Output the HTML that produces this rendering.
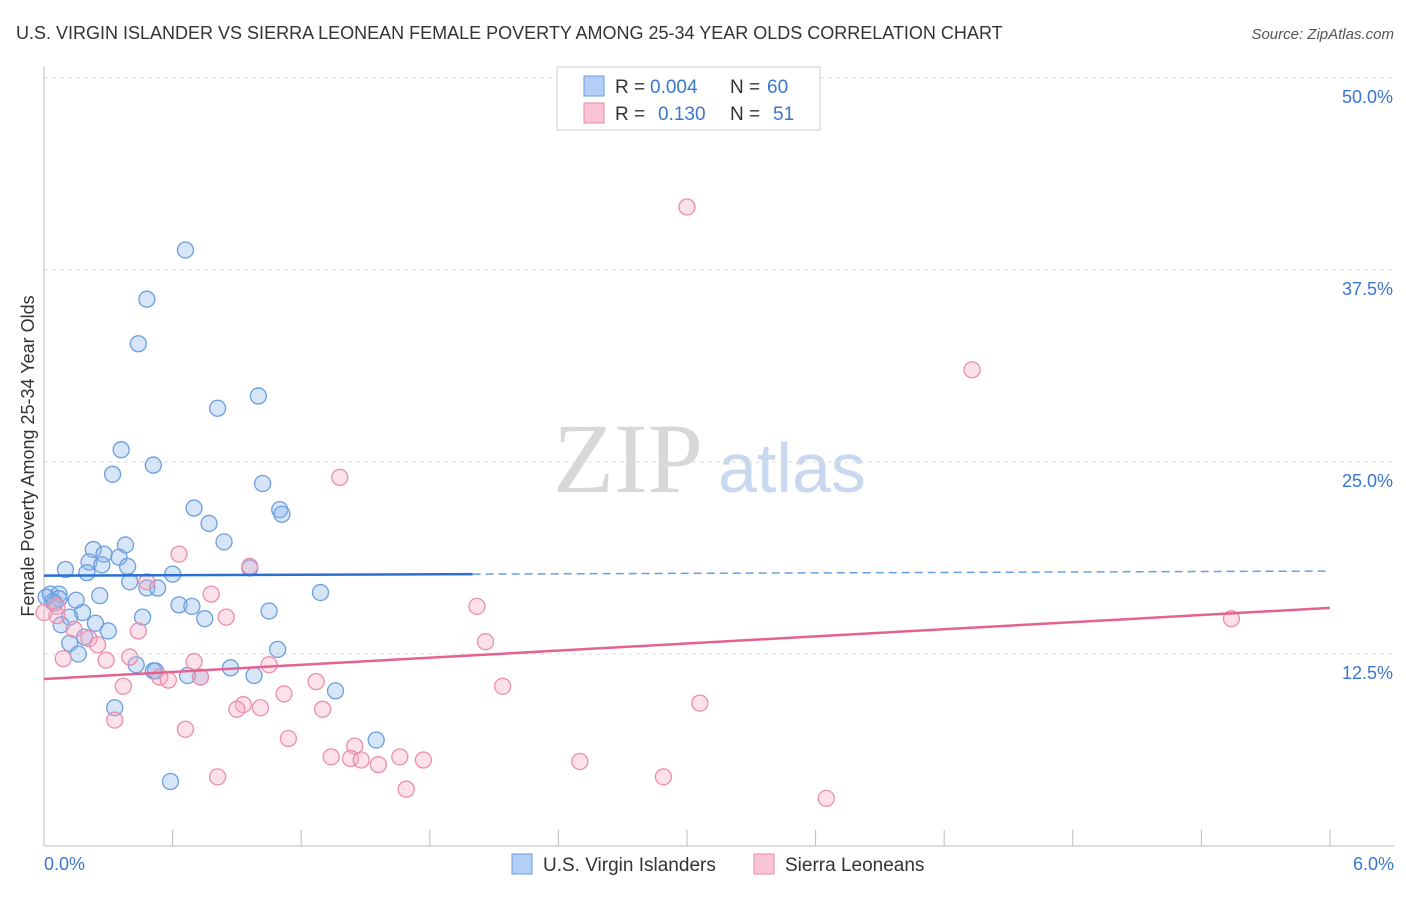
<!DOCTYPE html>
<html><head><meta charset="utf-8"><style>
body{margin:0;background:#fff;font-family:"Liberation Sans",sans-serif}
svg text{font-family:"Liberation Sans",sans-serif}
</style></head><body>
<svg id="c" width="1406" height="892">
<text x="16" y="39" font-size="18" fill="#333">U.S. VIRGIN ISLANDER VS SIERRA LEONEAN FEMALE POVERTY AMONG 25-34 YEAR OLDS CORRELATION CHART</text>
<text x="1394" y="39" font-size="15" fill="#555" text-anchor="end" font-style="italic">Source: ZipAtlas.com</text>
<text x="553" y="492" font-size="100" fill="#d8d8d8" style="font-family:'Liberation Serif',serif">ZIP</text>
<text x="718" y="492" font-size="70" fill="#c8d8ee">atlas</text>
<text transform="translate(34,456) rotate(-90)" font-size="18" fill="#333" text-anchor="middle">Female Poverty Among 25-34 Year Olds</text>
<g id="grid"></g><g id="pts"></g><g id="lines"></g>
<g>
<rect x="557" y="67" width="263" height="63" fill="#fff" stroke="#ccc"/>
<rect x="584" y="76" width="20" height="20" fill="#b4cff5" stroke="#6a9ee0"/>
<text x="615" y="93" font-size="19" fill="#333">R =</text>
<text x="650" y="93" font-size="19" fill="#3a76d0">0.004</text>
<text x="730" y="93" font-size="19" fill="#333">N =</text>
<text x="767" y="93" font-size="19" fill="#3a76d0">60</text>
<rect x="584" y="103" width="20" height="20" fill="#f8c3d2" stroke="#e88aa8"/>
<text x="615" y="120" font-size="19" fill="#333">R =</text>
<text x="658" y="120" font-size="19" fill="#3a76d0">0.130</text>
<text x="730" y="120" font-size="19" fill="#333">N =</text>
<text x="773" y="120" font-size="19" fill="#3a76d0">51</text>
</g>
<g>
<rect x="512" y="854" width="20" height="20" fill="#b4cff5" stroke="#6a9ee0"/>
<text x="543" y="871" font-size="19" fill="#333">U.S. Virgin Islanders</text>
<rect x="754" y="854" width="20" height="20" fill="#f8c3d2" stroke="#e88aa8"/>
<text x="785" y="871" font-size="19" fill="#333">Sierra Leoneans</text>
</g>
</svg>
<script>
const xTicks=[0,0.6,1.2,1.8,2.4,3.0,3.6,4.2,4.8,5.4,6.0];
const yTicks=[12.5,25,37.5,50];
const yTickLabels=["12.5%","25.0%","37.5%","50.0%"];
const blueX=[0.66,0.48,0.44,0.81,1.0,0.36,0.32,0.51,1.02,0.70,1.10,1.11,0.77,0.84,0.38,0.23,0.28,0.35,0.21,0.27,0.39,0.10,0.20,0.60,0.96,0.40,0.48,0.53,1.29,0.03,0.07,0.01,0.07,0.26,0.15,0.04,0.05,0.63,0.69,1.05,0.18,0.46,0.12,0.75,0.08,0.24,0.30,0.19,0.12,1.09,0.16,0.43,0.51,0.52,0.87,0.67,0.73,0.98,1.36,0.33,1.55,0.59];
const blueY=[38.8,35.6,32.7,28.5,29.3,25.8,24.2,24.8,23.6,22.0,21.9,21.6,21.0,19.8,19.6,19.3,19.0,18.8,18.5,18.3,18.2,18.0,17.8,17.7,18.1,17.2,16.8,16.8,16.5,16.4,16.4,16.2,16.1,16.3,16.0,15.9,15.8,15.7,15.6,15.3,15.2,14.9,14.9,14.8,14.4,14.5,14.0,13.6,13.2,12.8,12.5,11.8,11.4,11.4,11.6,11.1,11.0,11.1,10.1,9.0,6.9,4.2];
const pinkX=[3.0,4.33,1.38,0.63,0.96,0.48,2.02,0.78,0.06,0.06,0.85,0.14,0.44,0.21,0.25,2.06,0.09,0.40,0.29,0.70,1.05,0.54,0.58,0.73,0.37,2.14,1.27,1.12,0.93,0.90,1.01,1.30,3.06,0.33,0.66,1.14,1.45,1.34,1.43,1.48,1.56,1.66,1.77,2.50,0.81,2.89,1.69,3.65,5.54,0.0];
const pinkY=[41.6,31.0,24.0,19.0,18.2,17.2,15.6,16.4,15.6,15.0,14.9,14.1,14.0,13.5,13.1,13.3,12.2,12.3,12.1,12.0,11.8,11.0,10.8,11.0,10.4,10.4,10.7,9.9,9.2,8.9,9.0,8.9,9.3,8.2,7.6,7.0,6.5,5.8,5.7,5.6,5.3,5.8,5.6,5.5,4.5,4.5,3.7,3.1,14.8,15.2];
const blueTrend=[17.6,17.9];
const pinkTrend=[10.87,15.5];
const svg=document.getElementById('c'),NS='http://www.w3.org/2000/svg';
const X=v=>44+v/6*1286, Y=v=>846-v/12.5*192;
function mk(t,a,p){const e=document.createElementNS(NS,t);for(const k in a)e.setAttribute(k,a[k]);(p||svg).appendChild(e);return e;}
const g=document.getElementById('grid');
yTicks.forEach((v,i)=>{
 const l=mk('line',{x1:44,x2:1394,y1:Y(v),y2:Y(v),stroke:'#ddd','stroke-dasharray':'4,4'},g);
 
 
 const t=mk('text',{x:1393,y:Y(v)+25,'font-size':18,fill:'#3a76d0','text-anchor':'end'},g);t.textContent=yTickLabels[i];
 
 
});
const ax=mk('line',{x1:44,x2:1394,y1:846,y2:846,stroke:'#bbb'},g);


const ay=mk('line',{x1:44,x2:44,y1:66,y2:846,stroke:'#bbb'},g);


xTicks.forEach(v=>{const t=mk('line',{x1:X(v),x2:X(v),y1:830,y2:846,stroke:'#bbb'},g);
 
 });
[[0,'0.0%','start',44],[6,'6.0%','end',1394]].forEach(d=>{const t=mk('text',{x:d[3],y:870,'font-size':18,fill:'#3a76d0','text-anchor':d[2]},g);t.textContent=d[1];
 
 });
const p=document.getElementById('pts');
blueX.forEach((v,i)=>{const c=mk('circle',{cx:X(v),cy:Y(blueY[i]),r:8,fill:'rgba(140,180,235,0.35)',stroke:'#6a9ee0','stroke-width':1.3},p);
 
 });
pinkX.forEach((v,i)=>{const c=mk('circle',{cx:X(v),cy:Y(pinkY[i]),r:8,fill:'rgba(245,170,195,0.35)',stroke:'#eb8eab','stroke-width':1.3},p);
 
 });
const L=document.getElementById('lines');
const bm=v=>blueTrend[0]+(blueTrend[1]-blueTrend[0])*v/6;
const b1=mk('line',{x1:X(0),y1:Y(bm(0)),x2:X(2.0),y2:Y(bm(2.0)),stroke:'#2a6fd6','stroke-width':2.5},L);


const b2=mk('line',{x1:X(2.0),y1:Y(bm(2.0)),x2:X(6),y2:Y(bm(6)),stroke:'#6a9ee0','stroke-width':1.5,'stroke-dasharray':'8,5'},L);


const pl=mk('line',{x1:X(0),y1:Y(pinkTrend[0]),x2:X(6),y2:Y(pinkTrend[1]),stroke:'#e5628f','stroke-width':2.5},L);


</script>
</body></html>
